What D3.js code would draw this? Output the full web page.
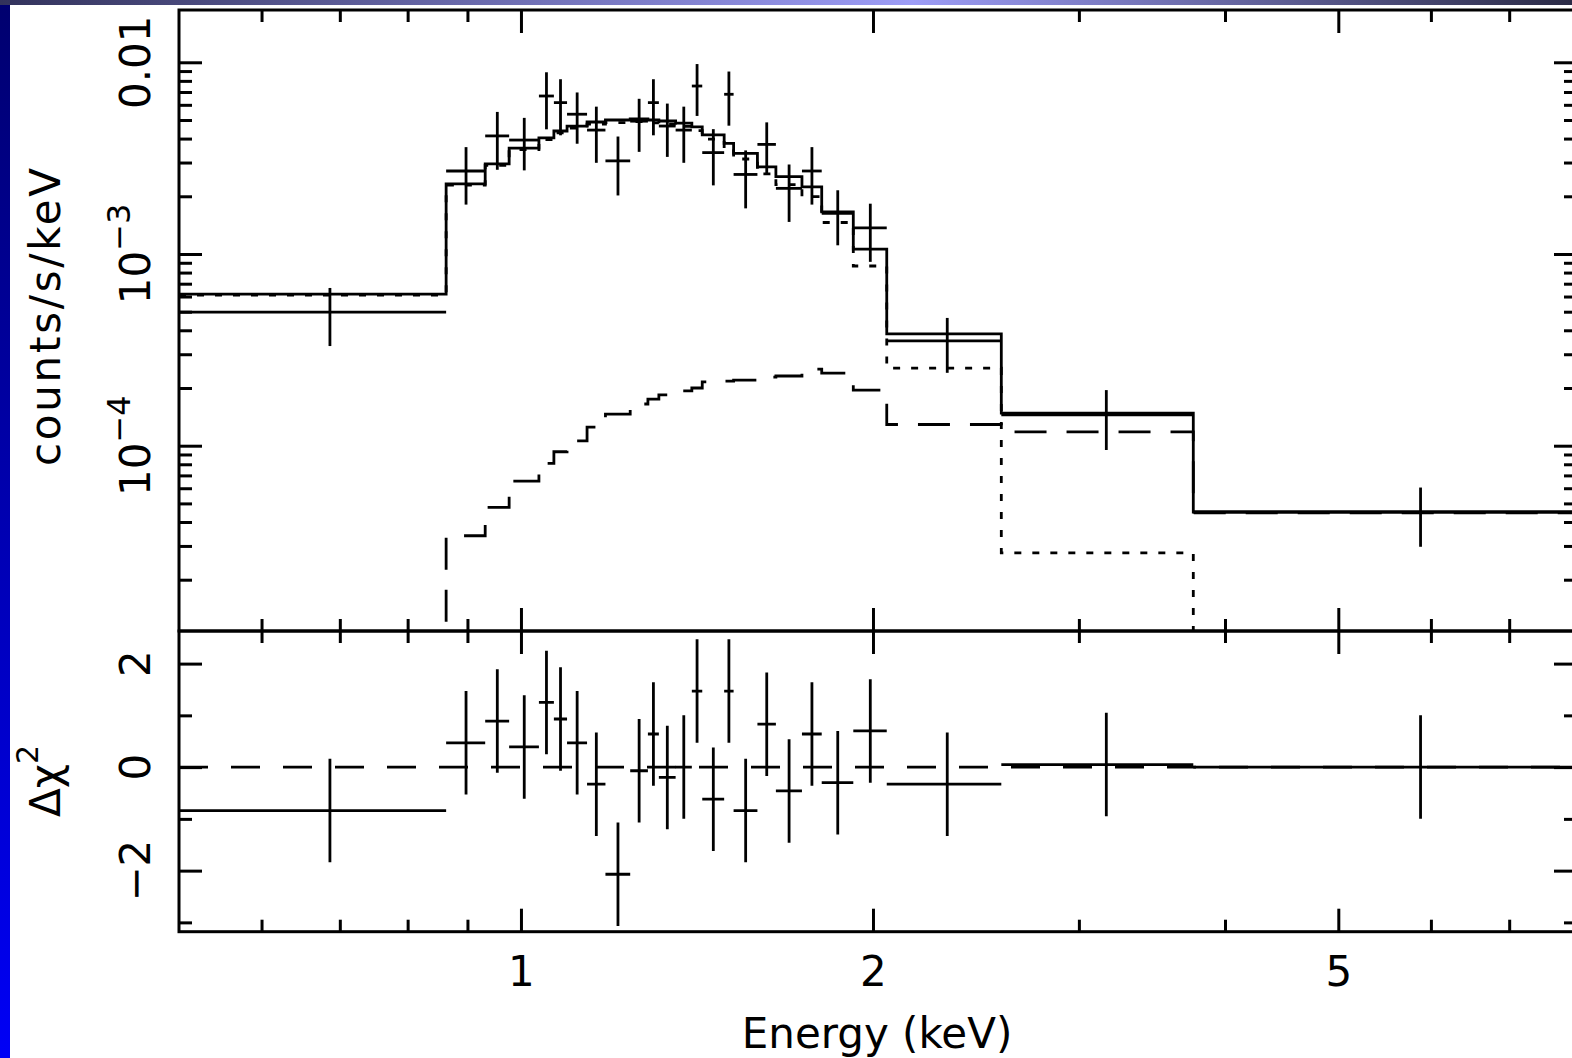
<!DOCTYPE html>
<html>
<head>
<meta charset="utf-8">
<script src="https://cdn.jsdelivr.net/npm/d3@7"></script>
<style>
    html, body { margin: 0; padding: 0; background: #fff; }
    svg { display: block; }
    text { font-family: "DejaVu Sans", sans-serif; fill: #000; }
</style>
</head>
<body>
<div id="chart"></div>
<script>
// Spectrum: counts/s/keV per energy bin, with a two-component folded model and delta-chi residuals

// bin edges (keV), one more than bins
const binEdges = [0.51, 0.863, 0.932, 0.977, 1.036, 1.067, 1.095, 1.139, 1.181, 1.240, 1.284,
    1.312, 1.356, 1.400, 1.429, 1.492, 1.520, 1.593, 1.652, 1.739, 1.808, 1.924, 2.055, 2.575, 3.758, 8.0];

// data (counts/s/keV) and 1-sigma errors
const dataRate = [4.98e-4, 2.71e-3, 4.13e-3, 3.93e-3, 6.67e-3, 6.16e-3, 5.36e-3, 4.43e-3, 3.06e-3, 4.93e-3,
    6.16e-3, 4.65e-3, 4.43e-3, 7.52e-3, 3.38e-3, 6.81e-3, 2.60e-3, 3.73e-3, 2.20e-3, 2.71e-3,
    1.63e-3, 1.37e-3, 3.52e-4, 1.45e-4, 4.51e-5];
const dataErr = [1.67e-4, 0.90e-3, 1.38e-3, 1.20e-3, 2.20e-3, 2.00e-3, 1.60e-3, 1.44e-3, 1.04e-3, 1.52e-3,
    2.00e-3, 1.44e-3, 1.44e-3, 2.27e-3, 1.10e-3, 2.14e-3, 0.87e-3, 1.13e-3, 0.73e-3, 0.90e-3,
    0.52e-3, 0.46e-3, 1.12e-4, 0.50e-4, 1.54e-5];

// folded model: total (solid), soft component (dotted), hard component (dashed); null = below plot
const modelTotal = [6.18e-4, 2.32e-3, 2.95e-3, 3.57e-3, 4.03e-3, 4.38e-3, 4.65e-3, 4.88e-3, 5.00e-3, 5.06e-3,
    5.00e-3, 4.94e-3, 4.82e-3, 4.60e-3, 4.18e-3, 3.78e-3, 3.35e-3, 2.85e-3, 2.53e-3, 2.24e-3,
    1.66e-3, 1.06e-3, 3.83e-4, 1.48e-4, 4.51e-5];
const modelSoft = [6.10e-4, 2.29e-3, 2.90e-3, 3.50e-3, 3.95e-3, 4.29e-3, 4.54e-3, 4.76e-3, 4.85e-3, 4.90e-3,
    4.83e-3, 4.76e-3, 4.63e-3, 4.40e-3, 3.97e-3, 3.56e-3, 3.13e-3, 2.62e-3, 2.30e-3, 1.99e-3,
    1.46e-3, 8.66e-4, 2.54e-4, 2.76e-5, null];
const modelHard = [null, 3.39e-5, 4.77e-5, 6.54e-5, 8.09e-5, 9.30e-5, 1.06e-4, 1.25e-4, 1.46e-4, 1.65e-4,
    1.75e-4, 1.84e-4, 1.93e-4, 2.00e-4, 2.15e-4, 2.17e-4, 2.20e-4, 2.28e-4, 2.31e-4, 2.51e-4,
    2.39e-4, 1.95e-4, 1.29e-4, 1.18e-4, 4.47e-5];

// residuals (delta chi), each with error 1
const delChi = [-0.84, 0.47, 0.89, 0.39, 1.25, 0.93, 0.47, -0.33, -2.07, -0.07,
    0.64, -0.20, 0.00, 1.47, -0.62, 1.47, -0.84, 0.83, -0.46, 0.64,
    -0.30, 0.70, -0.33, 0.05, 0.00];
const delChiErr = 1;

// ticks and labels
const xMajor = [1, 2, 5];
const xMinor = [0.6, 0.7, 0.8, 0.9, 3, 4, 6, 7];
const yTopMajor = [1e-2, 1e-3, 1e-4];
const yTopLabelBase = ["0.01", "10", "10"];
const yTopLabelExp = ["", "\u22123", "\u22124"];
const yBotMajor = [2, 0, -2];
const yBotMinor = [1, -1, -3];

(() => {
    const W = 1572, H = 1058;
    const L = 179, R = 1577, T = 10, MID = 631, B = 931.7;
    const LW = 2.8;

    const svg = d3.select("#chart").append("svg").attr("width", W).attr("height", H);
    const defs = svg.append("defs");

    // slide decoration
    const tg = defs.append("linearGradient").attr("id", "topBar").attr("x1", 0).attr("x2", 1).attr("y1", 0).attr("y2", 0);
    tg.append("stop").attr("offset", 0).attr("stop-color", "#33335c");
    tg.append("stop").attr("offset", 0.58).attr("stop-color", "#9d9df6");
    tg.append("stop").attr("offset", 1).attr("stop-color", "#2b2b46");
    const lg = defs.append("linearGradient").attr("id", "leftBar").attr("x1", 0).attr("x2", 0).attr("y1", 0).attr("y2", 1);
    lg.append("stop").attr("offset", 0).attr("stop-color", "#00006e");
    lg.append("stop").attr("offset", 1).attr("stop-color", "#0000f6");
    svg.append("rect").attr("x", 0).attr("y", 0).attr("width", 10).attr("height", H).attr("fill", "url(#leftBar)");
    svg.append("rect").attr("x", 0).attr("y", 0).attr("width", W).attr("height", 5).attr("fill", "url(#topBar)");

    defs.append("clipPath").attr("id", "clipTop").append("rect")
        .attr("x", L).attr("y", T).attr("width", R - L).attr("height", MID - T);
    defs.append("clipPath").attr("id", "clipBot").append("rect")
        .attr("x", L).attr("y", MID).attr("width", R - L).attr("height", B - MID);

    const x = d3.scaleLog().domain([0.51, 8]).range([L, R]);
    const yTop = d3.scaleLog().domain([1.08e-5, 0.01874]).range([MID, T]);
    const yBot = d3.scaleLinear().domain([-3.18, 2.63]).range([B, MID]);
    const floor = yTop.domain()[0] / 10;

    const n = dataRate.length;
    const centre = i => (binEdges[i] + binEdges[i + 1]) / 2;

    // ---- top panel ----
    const gTop = svg.append("g").attr("clip-path", "url(#clipTop)")
        .attr("fill", "none").attr("stroke", "#000").attr("stroke-width", LW);

    const step = (vals) => {
        const pts = vals.map((v, i) => [binEdges[i], v == null ? floor : v]);
        pts.push([binEdges[n], vals[n - 1] == null ? floor : vals[n - 1]]);
        return d3.line().x(d => x(d[0])).y(d => yTop(d[1])).curve(d3.curveStepAfter)(pts);
    };

    gTop.append("path").attr("d", step(modelSoft)).attr("stroke-dasharray", "7,11");
    gTop.append("path").attr("d", step(modelHard)).attr("stroke-dasharray", "32,20");
    gTop.append("path").attr("d", step(modelTotal));

    const crossTop = gTop.selectAll("g.cross").data(d3.range(n)).join("g").attr("class", "cross");
    crossTop.append("line")
        .attr("x1", i => x(binEdges[i])).attr("x2", i => x(binEdges[i + 1]))
        .attr("y1", i => yTop(dataRate[i])).attr("y2", i => yTop(dataRate[i]));
    crossTop.append("line")
        .attr("x1", i => x(centre(i))).attr("x2", i => x(centre(i)))
        .attr("y1", i => yTop(dataRate[i] + dataErr[i])).attr("y2", i => yTop(dataRate[i] - dataErr[i]));

    // ---- bottom panel ----
    const gBot = svg.append("g").attr("clip-path", "url(#clipBot)")
        .attr("fill", "none").attr("stroke", "#000").attr("stroke-width", LW);

    gBot.append("path")
        .attr("d", d3.line().x(d => x(d)).y(() => yBot(0))(x.domain()))
        .attr("stroke-dasharray", "29,23");

    const crossBot = gBot.selectAll("g.cross").data(d3.range(n)).join("g").attr("class", "cross");
    crossBot.append("line")
        .attr("x1", i => x(binEdges[i])).attr("x2", i => x(binEdges[i + 1]))
        .attr("y1", i => yBot(delChi[i])).attr("y2", i => yBot(delChi[i]));
    crossBot.append("line")
        .attr("x1", i => x(centre(i))).attr("x2", i => x(centre(i)))
        .attr("y1", i => yBot(delChi[i] + delChiErr)).attr("y2", i => yBot(delChi[i] - delChiErr));

    // ---- frames and ticks ----
    const fr = svg.append("g").attr("fill", "none").attr("stroke", "#000").attr("stroke-width", 3);
    fr.append("rect").attr("x", L).attr("y", T).attr("width", R - L).attr("height", MID - T);
    fr.append("rect").attr("x", L).attr("y", MID).attr("width", R - L).attr("height", B - MID);

    const clean = a => {
        a.select(".domain").remove();
        a.selectAll("line").attr("stroke-width", 3);
    };
    const xTicks = (yPos, vals, len) => svg.append("g").attr("transform", `translate(0,${yPos})`)
        .call(d3.axisBottom(x).tickValues(vals).tickSize(len).tickFormat("")).call(clean);
    [[T, 1], [MID, -1], [MID, 1], [B, -1]].forEach(([yp, s]) => {
        xTicks(yp, xMajor, 23 * s);
        xTicks(yp, xMinor, 12 * s);
    });

    const yTicks = (axis, xPos, scale, vals, len) => svg.append("g").attr("transform", `translate(${xPos},0)`)
        .call(axis(scale).tickValues(vals).tickSize(len).tickFormat("")).call(clean);
    const yTopMinor = yTop.ticks().filter(v => !yTopMajor.some(m => Math.abs(m / v - 1) < 1e-6));
    [[d3.axisRight, L], [d3.axisLeft, R]].forEach(([ax, xp]) => {
        yTicks(ax, xp, yTop, yTopMajor, 23);
        yTicks(ax, xp, yTop, yTopMinor, 13);
        yTicks(ax, xp, yBot, yBotMajor, 23);
        yTicks(ax, xp, yBot, yBotMinor, 13);
    });

    // ---- labels ----
    const xl = svg.append("g").attr("transform", `translate(0,${B})`)
        .call(d3.axisBottom(x).tickValues(xMajor).tickSize(0).tickPadding(24).tickFormat(d3.format("d")));
    xl.select(".domain").remove();
    xl.attr("font-family", null).attr("font-size", null);
    xl.selectAll("text").attr("font-size", 42);

    yTopMajor.forEach((v, i) => {
        const t = svg.append("text").attr("text-anchor", "middle").attr("font-size", 42)
            .attr("transform", `translate(150,${yTop(v)}) rotate(-90)`);
        t.append("tspan").text(yTopLabelBase[i]);
        if (yTopLabelExp[i]) t.append("tspan").attr("font-size", 32).attr("dy", -20).text(yTopLabelExp[i]);
    });
    yBotMajor.forEach(v => {
        svg.append("text").attr("text-anchor", "middle").attr("font-size", 42)
            .attr("transform", `translate(150,${yBot(v)}) rotate(-90)`)
            .text(d3.format("d")(v));
    });

    svg.append("text").attr("text-anchor", "middle").attr("font-size", 42)
        .attr("transform", "translate(60,317) rotate(-90)")
        .attr("textLength", 298).attr("lengthAdjust", "spacing")
        .text("counts/s/keV");

    const dc = svg.append("text").attr("text-anchor", "middle").attr("font-size", 42)
        .attr("transform", "translate(60,781) rotate(-90)");
    dc.append("tspan").text("\u0394\u03c7");
    dc.append("tspan").attr("font-size", 30).attr("dy", -22).text("2");

    svg.append("text").attr("text-anchor", "middle").attr("font-size", 42)
        .attr("x", 877).attr("y", 1048).text("Energy (keV)");
})();
</script>
</body>
</html>
